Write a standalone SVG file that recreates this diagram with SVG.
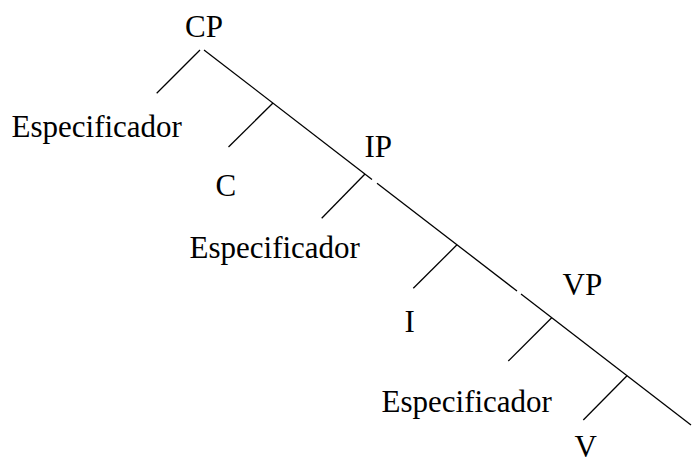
<svg xmlns="http://www.w3.org/2000/svg" width="692" height="457" viewBox="0 0 692 457">
<style>
text{font-family:"Liberation Serif","Times New Roman",serif;font-size:31px;fill:#000}
line{stroke:#000;stroke-width:1.3;fill:none}
</style>
<rect width="692" height="457" fill="#fff"/>
<g id="connectors">
<line x1="204" y1="50" x2="372" y2="179.4"/>
<line x1="377" y1="183.2" x2="517" y2="291"/>
<line x1="521" y1="294" x2="691" y2="425"/>
<line x1="200" y1="50" x2="156.7" y2="93.3"/>
<line x1="273" y1="103" x2="228.5" y2="147"/>
<line x1="365" y1="174" x2="321.7" y2="218.3"/>
<line x1="457" y1="244.8" x2="413.3" y2="288.3"/>
<line x1="551.7" y1="317.7" x2="508.3" y2="361"/>
<line x1="627" y1="375.7" x2="583.3" y2="420"/>
</g>
<g id="CP"><text x="185" y="37">CP</text></g>
<g id="Spec1"><text x="11.5" y="137">Especificador</text></g>
<g id="C"><text x="215.5" y="196">C</text></g>
<g id="IP"><text x="364.5" y="157">IP</text></g>
<g id="Spec2"><text x="189.5" y="258">Especificador</text></g>
<g id="I"><text x="404.5" y="332">I</text></g>
<g id="VP"><text x="562.5" y="295">VP</text></g>
<g id="Spec3"><text x="381.5" y="412">Especificador</text></g>
<g id="V"><text x="574.5" y="456.5">V</text></g>
</svg>
